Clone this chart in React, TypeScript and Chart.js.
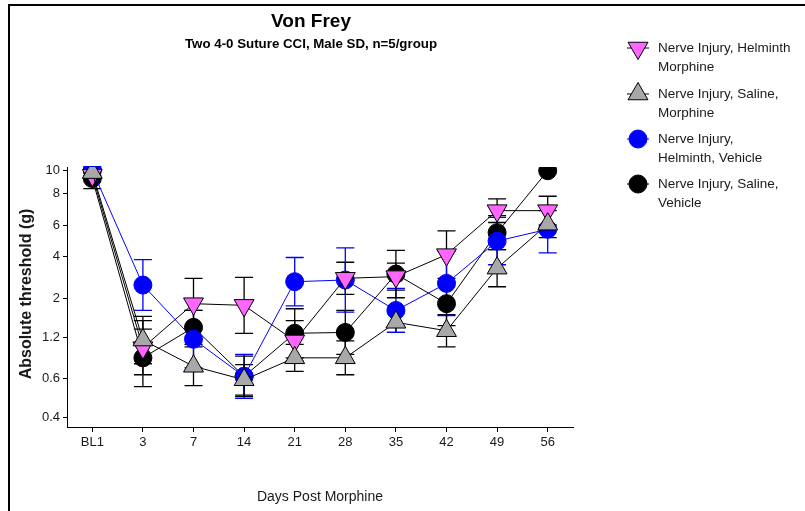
import React, { useEffect, useRef } from 'react';
import { Chart, registerables } from 'chart.js';

Chart.register(...registerables);

// Categories (days post morphine)
const days = ['BL1', '3', '7', '14', '21', '28', '35', '42', '49', '56'];

// Y axis is linear in von Frey filament (evaluator) units, labelled in grams
const yTickValues = [3.61, 3.84, 4.08, 4.31, 4.56, 4.74, 4.93, 5.07];
const yTickLabels = ['0.4', '0.6', '1.2', '2', '4', '6', '8', '10'];

// Series values (filament units) and SEM
const helminthMorphine = [5.04, 4.02, 4.28, 4.27, 4.06, 4.43, 4.44, 4.57, 4.83, 4.83];
const helminthMorphineErr = [0.02, 0.16, 0.15, 0.165, 0.12, 0.095, 0.08, 0.14, 0.07, 0.085];

const salineMorphine = [5.055, 4.065, 3.91, 3.83, 3.96, 3.96, 4.17, 4.12, 4.49, 4.75];
const salineMorphineErr = [0.02, 0.14, 0.115, 0.09, 0.08, 0.1, 0.06, 0.095, 0.11, 0.08];

const helminthVehicle = [5.07, 4.39, 4.07, 3.85, 4.41, 4.42, 4.24, 4.4, 4.65, 4.72];
const helminthVehicleErr = [0.02, 0.15, 0.17, 0.13, 0.143, 0.19, 0.13, 0.19, 0.14, 0.14];

const salineVehicle = [5.02, 3.96, 4.14, 3.85, 4.105, 4.11, 4.455, 4.28, 4.7, 5.066];
const salineVehicleErr = [0.06, 0.17, 0.1, 0.12, 0.145, 0.13, 0.14, 0.13, 0.1, 0];

const seriesNames = [
  ['Nerve Injury, Helminth', 'Morphine'],
  ['Nerve Injury, Saline,', 'Morphine'],
  ['Nerve Injury,', 'Helminth, Vehicle'],
  ['Nerve Injury, Saline,', 'Vehicle'],
];

const FONT = "'Liberation Sans', Arial, Helvetica, sans-serif";
const TEXT = '#1a1a1a';

const errorsByDataset = [helminthMorphineErr, salineMorphineErr, helminthVehicleErr, salineVehicleErr];

const errorBarPlugin = {
  id: 'errorBars',
  beforeDatasetsDraw(chart: any) {
    const { ctx } = chart;
    const y = chart.scales.y;
    chart.data.datasets.forEach((ds: any, i: number) => {
      const meta = chart.getDatasetMeta(i);
      const errs = errorsByDataset[i];
      ctx.save();
      ctx.strokeStyle = ds.errorColor;
      ctx.lineWidth = 1.3;
      meta.data.forEach((pt: any, j: number) => {
        const e = errs[j];
        if (!e) return;
        const v = ds.data[j];
        const top = y.getPixelForValue(v + e);
        const bot = y.getPixelForValue(v - e);
        const cw = 9;
        ctx.beginPath();
        ctx.moveTo(pt.x, top);
        ctx.lineTo(pt.x, bot);
        ctx.moveTo(pt.x - cw, top);
        ctx.lineTo(pt.x + cw, top);
        ctx.moveTo(pt.x - cw, bot);
        ctx.lineTo(pt.x + cw, bot);
        ctx.stroke();
      });
      ctx.restore();
    });
  },
};

function drawMarker(ctx: CanvasRenderingContext2D, ds: any, x: number, y: number) {
  const r = ds.pointRadius;
  ctx.save();
  ctx.fillStyle = ds.pointBackgroundColor;
  ctx.strokeStyle = ds.pointBorderColor;
  ctx.lineWidth = 1;
  ctx.beginPath();
  if (ds.pointStyle === 'triangle') {
    let rad = ((ds.pointRotation || 0) * Math.PI) / 180;
    for (let k = 0; k < 3; k++) {
      const px = x + Math.sin(rad) * r;
      const py = y - Math.cos(rad) * r;
      if (k === 0) ctx.moveTo(px, py);
      else ctx.lineTo(px, py);
      rad += (2 * Math.PI) / 3;
    }
    ctx.closePath();
  } else {
    ctx.arc(x, y, r, 0, Math.PI * 2);
  }
  ctx.fill();
  ctx.stroke();
  ctx.restore();
}

const decorPlugin = {
  id: 'decor',
  afterDraw(chart: any) {
    const { ctx } = chart;
    ctx.save();
    // frame
    ctx.fillStyle = '#000';
    ctx.fillRect(8, 4, 805 - 8, 2);
    ctx.fillRect(8, 4, 2, 511 - 4);

    // titles
    ctx.fillStyle = '#000';
    ctx.textAlign = 'center';
    ctx.textBaseline = 'middle';
    ctx.font = `bold 19px ${FONT}`;
    ctx.fillText('Von Frey', 311, 22);
    ctx.font = `bold 13.3px ${FONT}`;
    ctx.fillText('Two 4-0 Suture CCI, Male SD, n=5/group', 311, 44);

    // axis titles
    ctx.fillStyle = TEXT;
    ctx.font = `14px ${FONT}`;
    ctx.fillText('Days Post Morphine', 320, 497);
    ctx.save();
    ctx.translate(27, 294);
    ctx.rotate(-Math.PI / 2);
    ctx.font = `bold 16px ${FONT}`;
    ctx.fillText('Absolute threshold (g)', 0, 0);
    ctx.restore();

    // legend
    const rows = [48, 94, 139, 184];
    const mx = 638;
    chart.data.datasets.forEach((ds: any, i: number) => {
      const yy = rows[i];
      ctx.save();
      ctx.strokeStyle = ds.borderColor;
      ctx.lineWidth = 1;
      ctx.beginPath();
      ctx.moveTo(mx - 11, yy);
      ctx.lineTo(mx + 11, yy);
      ctx.stroke();
      ctx.restore();
      drawMarker(ctx, ds, mx, yy);
      ctx.fillStyle = TEXT;
      ctx.textAlign = 'left';
      ctx.textBaseline = 'middle';
      ctx.font = `13.5px ${FONT}`;
      seriesNames[i].forEach((line, k) => ctx.fillText(line, 658, yy + k * 19));
    });
    ctx.restore();
  },
};

export default function App() {
  const ref = useRef<HTMLCanvasElement>(null);

  useEffect(() => {
    if (!ref.current) return;
    const chart = new Chart(ref.current, {
      type: 'line',
      data: {
        labels: days,
        datasets: [
          {
            label: seriesNames[0].join(' '),
            data: helminthMorphine,
            borderColor: '#000',
            borderWidth: 1,
            pointStyle: 'triangle',
            pointRotation: 180,
            pointRadius: 11.5,
            pointBackgroundColor: '#ff66ff',
            pointBorderColor: '#000',
            pointBorderWidth: 1,
            errorColor: '#000',
            order: 1,
          } as any,
          {
            label: seriesNames[1].join(' '),
            data: salineMorphine,
            borderColor: '#000',
            borderWidth: 1,
            pointStyle: 'triangle',
            pointRotation: 0,
            pointRadius: 11.5,
            pointBackgroundColor: '#a8a8a8',
            pointBorderColor: '#000',
            pointBorderWidth: 1,
            errorColor: '#000',
            order: 0,
          } as any,
          {
            label: seriesNames[2].join(' '),
            data: helminthVehicle,
            borderColor: '#0000ff',
            borderWidth: 1,
            pointStyle: 'circle',
            pointRadius: 9,
            pointBackgroundColor: '#0000ff',
            pointBorderColor: '#0000ff',
            pointBorderWidth: 1,
            errorColor: '#0000ff',
            order: 2,
          } as any,
          {
            label: seriesNames[3].join(' '),
            data: salineVehicle,
            borderColor: '#000',
            borderWidth: 1,
            pointStyle: 'circle',
            pointRadius: 9,
            pointBackgroundColor: '#000',
            pointBorderColor: '#000',
            pointBorderWidth: 1,
            errorColor: '#000',
            order: 3,
          } as any,
        ],
      },
      options: {
        animation: false,
        responsive: false,
        devicePixelRatio: 1,
        layout: { padding: { left: 0, top: 167, right: 232, bottom: 0 } },
        plugins: {
          legend: { display: false },
          title: { display: false },
          tooltip: { enabled: false },
        },
        elements: { line: { tension: 0 } },
        scales: {
          x: {
            type: 'category',
            offset: true,
            grid: {
              display: true,
              offset: false,
              drawOnChartArea: false,
              drawTicks: true,
              tickLength: 5,
              color: '#000',
            },
            border: { display: true, color: '#000', width: 1 },
            ticks: {
              color: TEXT,
              font: { family: FONT, size: 13 },
              padding: 3,
              maxRotation: 0,
              autoSkip: false,
            },
            afterFit(scale: any) {
              scale.height = 84;
            },
          },
          y: {
            type: 'linear',
            min: 3.551,
            max: 5.088,
            grid: {
              display: true,
              drawOnChartArea: false,
              drawTicks: true,
              tickLength: 4,
              color: '#000',
            },
            border: { display: true, color: '#000', width: 1 },
            afterBuildTicks(scale: any) {
              scale.ticks = yTickValues.map((v) => ({ value: v }));
            },
            ticks: {
              color: TEXT,
              font: { family: FONT, size: 13 },
              padding: 3,
              callback: (_v: any, idx: number) => yTickLabels[idx],
            },
            afterFit(scale: any) {
              scale.width = 67;
            },
          },
        },
      },
      plugins: [errorBarPlugin, decorPlugin],
    } as any);
    return () => chart.destroy();
  }, []);

  return (
    <div style={{ position: 'fixed', left: 0, top: 0, width: 805, height: 511, background: '#fff' }}>
      <canvas ref={ref} width={805} height={511} style={{ display: 'block', width: 805, height: 511 }} />
    </div>
  );
}
